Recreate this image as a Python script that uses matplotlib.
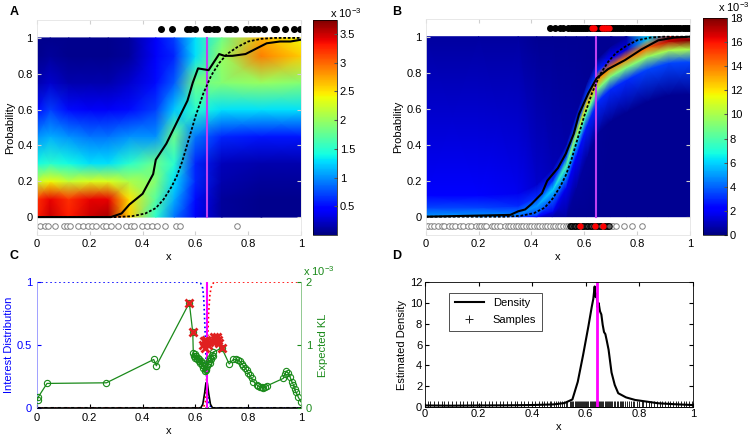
import matplotlib
matplotlib.use("Agg")
import matplotlib.pyplot as plt
import numpy as np

plt.rcParams["font.family"] = ["Liberation Sans", "DejaVu Sans"]
plt.rcParams["font.size"] = 8
plt.rcParams["mathtext.default"] = "regular"
plt.rcParams["xtick.direction"] = "in"
plt.rcParams["ytick.direction"] = "in"

# shared: true psychometric curve and the boundary
true_x = [0.0, 0.30, 0.36, 0.41, 0.45, 0.48, 0.51, 0.53, 0.55, 0.57, 0.60, 0.63, 0.66, 0.69, 0.72, 0.76, 0.80, 0.85, 0.90, 1.0]
true_p = [0.0, 0.0, 0.005, 0.02, 0.05, 0.10, 0.17, 0.23, 0.31, 0.41, 0.56, 0.69, 0.79, 0.86, 0.91, 0.95, 0.98, 0.995, 1.0, 1.0]
boundary_x = 0.643

# panel A
a_est_x = [0.0, 0.28, 0.32, 0.35, 0.40, 0.44, 0.45, 0.49, 0.52, 0.57, 0.59, 0.61, 0.65, 0.69, 0.71, 0.74, 0.79, 0.87, 0.92, 0.96, 1.0]
a_est_p = [0.0, 0.0, 0.02, 0.07, 0.13, 0.24, 0.32, 0.41, 0.50, 0.65, 0.75, 0.83, 0.82, 0.91, 0.90, 0.90, 0.91, 0.97, 0.98, 0.98, 0.99]
a_heat_x = [0.0, 0.05, 0.12, 0.2, 0.27, 0.35, 0.45, 0.52, 0.6, 0.7, 0.85, 1.0]
a_heat_p = [0.0, 0.1, 0.2, 0.3, 0.45, 0.6, 0.75, 0.9, 1.0]
a_heat = [
    [3.3, 3.5, 3.3, 3.5, 3.6, 2.6, 1.5, 0.9, 0.4, 0.1, 0.05, 0.05],
    [3.2, 3.4, 3.2, 3.4, 3.4, 2.5, 1.7, 1.1, 0.5, 0.1, 0.05, 0.05],
    [2.2, 2.4, 2.2, 2.3, 2.3, 2.1, 1.9, 1.3, 0.6, 0.15, 0.1, 0.1],
    [1.4, 1.5, 1.4, 1.3, 1.3, 1.5, 1.8, 1.5, 0.6, 0.2, 0.15, 0.15],
    [1.0, 1.1, 1.0, 0.9, 0.9, 1.0, 1.0, 1.8, 0.9, 0.6, 0.55, 0.55],
    [0.5, 0.7, 0.5, 0.4, 0.4, 0.5, 0.7, 1.2, 1.5, 1.3, 1.3, 1.3],
    [0.15, 0.25, 0.15, 0.15, 0.15, 0.25, 0.5, 0.8, 1.8, 1.9, 2.0, 1.9],
    [0.05, 0.1, 0.05, 0.05, 0.05, 0.1, 0.4, 0.6, 1.3, 2.0, 2.9, 2.6],
    [0.05, 0.05, 0.05, 0.05, 0.05, 0.1, 0.4, 0.7, 1.3, 1.8, 2.7, 2.4],
]
a_top_x = [0.471, 0.511, 0.568, 0.578, 0.60, 0.641, 0.653, 0.669, 0.682, 0.72, 0.73, 0.751,
           0.793, 0.806, 0.821, 0.836, 0.861, 0.896, 0.907, 0.941, 0.972, 0.997]
a_bottom_x = [0.013, 0.032, 0.04, 0.069, 0.101, 0.114, 0.124, 0.154, 0.174, 0.192, 0.208, 0.225,
              0.25, 0.263, 0.28, 0.306, 0.338, 0.356, 0.366, 0.398, 0.417, 0.436, 0.455, 0.484,
              0.528, 0.543, 0.758]
a_cbar_ticks = [0.5, 1, 1.5, 2, 2.5, 3, 3.5]
a_cbar_labels = ["0.5", "1", "1.5", "2", "2.5", "3", "3.5"]

# panel B
b_est_x = [0.0, 0.32, 0.35, 0.376, 0.40, 0.44, 0.46, 0.50, 0.53, 0.56, 0.58, 0.615, 0.647, 0.69, 0.754, 0.817, 0.88, 0.94, 1.0]
b_est_p = [0.0, 0.01, 0.03, 0.04, 0.07, 0.13, 0.20, 0.27, 0.35, 0.46, 0.57, 0.685, 0.77, 0.82, 0.87, 0.93, 0.98, 0.995, 1.0]
b_mesh_x = [0.0, 0.2, 0.35, 0.42, 0.48, 0.53, 0.57, 0.61, 0.65, 0.70, 0.76, 0.84, 0.92, 1.0]
b_ridge_p = [0.0, 0.0, 0.01, 0.06, 0.15, 0.28, 0.46, 0.63, 0.76, 0.83, 0.88, 0.94, 0.975, 0.98]
b_offsets = [-1.0, -0.3, -0.12, -0.05, 0.0, 0.05, 0.12, 1.0]
b_heat = [
    [5.0, 5.0, 3.0, 0.6, 0.4, 0.3, 0.3, 0.3, 0.3, 0.3, 0.3, 0.3, 0.3, 0.3],
    [5.0, 5.0, 3.0, 1.0, 0.7, 0.5, 0.5, 0.5, 0.4, 0.3, 0.3, 0.3, 0.3, 0.3],
    [5.0, 5.0, 3.0, 2.2, 1.8, 1.8, 2.2, 2.8, 3.0, 3.0, 3.0, 3.5, 3.5, 3.5],
    [5.0, 5.0, 3.5, 3.5, 4.0, 5.0, 6.0, 8.0, 9.0, 9.0, 9.0, 9.5, 10.0, 10.0],
    [5.0, 5.0, 4.5, 5.0, 6.0, 8.0, 10.0, 12.0, 13.5, 14.0, 14.0, 14.5, 17.0, 18.0],
    [3.5, 3.5, 3.0, 3.0, 3.0, 3.5, 3.5, 3.5, 3.0, 2.0, 1.5, 6.0, 17.0, 17.5],
    [2.0, 2.0, 1.8, 1.2, 0.9, 0.7, 0.5, 0.4, 0.3, 0.3, 0.5, 6.0, 17.0, 17.5],
    [0.5, 0.5, 0.5, 0.3, 0.3, 0.3, 0.3, 0.3, 0.3, 0.3, 0.5, 6.0, 17.0, 17.5],
]
b_top_x = [0.47, 0.49, 0.508, 0.52, 0.540, 0.548, 0.556, 0.564, 0.572, 0.580, 0.588, 0.596,
           0.604, 0.612, 0.620, 0.628, 0.636, 0.644, 0.652, 0.660, 0.668, 0.676, 0.684, 0.692,
           0.700, 0.708, 0.716, 0.724, 0.732, 0.740, 0.748, 0.756, 0.764, 0.772, 0.780, 0.788,
           0.796, 0.804, 0.812, 0.820, 0.828, 0.836, 0.844, 0.852, 0.860, 0.868, 0.876, 0.884,
           0.892, 0.900, 0.908, 0.916, 0.924, 0.932, 0.940, 0.948, 0.956, 0.964, 0.972, 0.980,
           0.988, 0.996]
b_top_red_x = [0.628, 0.636, 0.668, 0.676, 0.684, 0.692]
b_bottom_x = [0.0, 0.01, 0.02, 0.03, 0.045, 0.06, 0.07, 0.09, 0.10, 0.11, 0.13, 0.14, 0.16,
              0.17, 0.19, 0.20, 0.21, 0.22, 0.23, 0.25, 0.26, 0.27, 0.28, 0.30, 0.31, 0.32,
              0.33, 0.34, 0.35, 0.36, 0.37, 0.38, 0.39, 0.40, 0.41, 0.42, 0.43, 0.44, 0.45,
              0.46, 0.47, 0.48, 0.49, 0.50, 0.51, 0.52, 0.53, 0.54, 0.70, 0.71, 0.72, 0.75,
              0.78, 0.82]
b_bottom_dense_x = [0.545, 0.55, 0.555, 0.56, 0.565, 0.57, 0.575, 0.58, 0.59, 0.595, 0.60,
                    0.605, 0.61, 0.615, 0.62, 0.625, 0.63, 0.635, 0.645, 0.65, 0.655, 0.66,
                    0.665, 0.675, 0.68, 0.685, 0.69, 0.695]
b_bottom_red_x = [0.584, 0.64, 0.67]
b_cbar_ticks = [0, 2, 4, 6, 8, 10, 12, 14, 16, 18]

# panel C
c_blue_x = [0.0, 0.60, 0.62, 0.628, 0.632, 0.636, 0.64, 0.644, 0.65, 0.66, 1.0]
c_blue_y = [1.0, 1.0, 0.99, 0.95, 0.85, 0.65, 0.40, 0.15, 0.04, 0.0, 0.0]
c_red_x = [0.0, 0.63, 0.638, 0.642, 0.646, 0.65, 0.655, 0.66, 0.67, 1.0]
c_red_y = [0.0, 0.0, 0.05, 0.2, 0.5, 0.75, 0.9, 0.96, 1.0, 1.0]
c_prod_x = [0.0, 0.62, 0.628, 0.635, 0.64, 0.645, 0.65, 0.657, 0.665, 1.0]
c_prod_y = [0.0, 0.0, 0.03, 0.12, 0.2, 0.2, 0.12, 0.03, 0.0, 0.0]
c_kl_x = [0.002, 0.004, 0.038, 0.263, 0.442, 0.452, 0.577, 0.59,
          0.592, 0.594, 0.597, 0.60, 0.603, 0.606, 0.609, 0.612, 0.615, 0.618, 0.621, 0.624,
          0.627, 0.63, 0.633, 0.636, 0.639, 0.642, 0.645, 0.648, 0.651, 0.654, 0.657, 0.66,
          0.663, 0.666, 0.668, 0.70,
          0.728, 0.744, 0.752, 0.76, 0.769, 0.776, 0.782, 0.788, 0.794, 0.80, 0.806, 0.813,
          0.82, 0.832, 0.838, 0.845, 0.851, 0.857, 0.863, 0.87, 0.933, 0.939, 0.945, 0.952,
          0.958, 0.965, 0.971, 0.976, 0.981, 0.99, 0.999]
c_kl_val = [0.13, 0.17, 0.39, 0.40, 0.77, 0.67, 1.67, 1.20,
            0.88, 0.83, 0.86, 0.80, 0.83, 0.77, 0.80, 0.74, 0.77, 0.71, 0.74, 0.68,
            0.71, 0.64, 0.67, 0.58, 0.62, 0.60, 0.66, 0.70, 0.74, 0.72, 0.79, 0.77,
            0.84, 0.82, 0.89, 0.95,
            0.70, 0.77, 0.77, 0.76, 0.74, 0.70, 0.67, 0.64, 0.60, 0.56, 0.52, 0.47,
            0.42, 0.37, 0.35, 0.33, 0.33, 0.31, 0.33, 0.35, 0.47, 0.54, 0.58, 0.55,
            0.50, 0.42, 0.37, 0.30, 0.25, 0.17, 0.10]
c_sel_x = [0.577, 0.59, 0.63, 0.634, 0.638, 0.642, 0.646, 0.65,
           0.666, 0.671, 0.676, 0.681, 0.686, 0.69, 0.70]
c_sel_val = [1.67, 1.20, 1.0, 1.07, 0.95, 1.08, 1.0, 1.05,
             1.05, 1.12, 1.08, 1.12, 1.08, 1.03, 0.95]

# panel D
d_x = [0.0, 0.1, 0.2, 0.3, 0.4, 0.48, 0.52, 0.55, 0.57, 0.59, 0.61, 0.622, 0.628, 0.633,
       0.636, 0.64, 0.644, 0.648, 0.653, 0.658, 0.663, 0.668, 0.673, 0.678, 0.685, 0.696,
       0.708, 0.721, 0.75, 0.784, 0.83, 0.871, 0.93, 1.0]
d_density = [0.12, 0.10, 0.12, 0.13, 0.16, 0.22, 0.35, 0.7, 2.4, 5.0, 7.8, 9.6, 10.4, 11.6,
             10.6, 10.9, 9.6, 10.0, 9.2, 8.9, 7.9, 7.2, 7.0, 6.4, 5.5, 3.3,
             2.1, 1.3, 0.9, 0.65, 0.48, 0.33, 0.24, 0.16]
d_samples = [0.01, 0.02, 0.035, 0.05, 0.065, 0.07, 0.085, 0.10, 0.115, 0.13, 0.14, 0.155,
             0.17, 0.18, 0.195, 0.21, 0.225, 0.24, 0.25, 0.265, 0.28, 0.29, 0.305, 0.32,
             0.335, 0.345, 0.36, 0.37, 0.385, 0.40, 0.41, 0.425, 0.435, 0.445,
             0.455, 0.465, 0.47, 0.48, 0.49, 0.495, 0.505, 0.51, 0.52, 0.525, 0.53, 0.54, 0.545,
             0.550, 0.554, 0.558, 0.562, 0.566, 0.570, 0.574, 0.578, 0.582, 0.586, 0.590,
             0.594, 0.598, 0.602, 0.606, 0.610, 0.614, 0.618, 0.622, 0.626, 0.630, 0.634,
             0.638, 0.642, 0.646, 0.650, 0.654, 0.658, 0.662, 0.666, 0.670, 0.674, 0.678,
             0.682, 0.686, 0.690, 0.694, 0.698,
             0.705, 0.71, 0.715, 0.72, 0.726, 0.73, 0.735, 0.74, 0.748, 0.755, 0.76, 0.768,
             0.775, 0.78, 0.79, 0.80, 0.808, 0.815, 0.825, 0.835, 0.845,
             0.855, 0.865, 0.875, 0.885, 0.895, 0.905, 0.915, 0.925, 0.935, 0.945, 0.955,
             0.965, 0.975, 0.985, 0.995]

x_ticks = [0, 0.2, 0.4, 0.6, 0.8, 1]
x_labels = ["0", "0.2", "0.4", "0.6", "0.8", "1"]
p_ticks = [0, 0.2, 0.4, 0.6, 0.8, 1]

violet = "#c040f0"
magenta = "#ff00ff"
kl_green = "#1a8a1a"
W, H = 750, 440


def fig_rect(x0, y0, x1, y1):
    # pixel box (top-left origin) -> figure fraction
    return [x0 / W, 1 - y1 / H, (x1 - x0) / W, (y1 - y0) / H]


def style_prob_axes(ax):
    ax.set_xlim(0, 1)
    ax.set_ylim(-0.1, 1.1)
    ax.set_xticks(x_ticks)
    ax.set_xticklabels(x_labels)
    ax.set_yticks(p_ticks)
    ax.set_yticklabels(x_labels)
    for s in ax.spines.values():
        s.set_color("#e4e4e4")
        s.set_linewidth(0.6)
    ax.tick_params(color="#d0d0d0", length=3, top=True, right=True, pad=3)
    ax.set_xlabel("x", labelpad=2)
    ax.set_ylabel("Probability", labelpad=2)


def draw_cbar(fig, mesh, rect, ticks, labels):
    cax = fig.add_axes(rect)
    cb = fig.colorbar(mesh, cax=cax)
    cb.set_ticks(ticks)
    cb.set_ticklabels(labels)
    cb.outline.set_linewidth(0.5)
    cax.tick_params(direction="in", length=2, pad=2, color="#555555")
    return cax


fig = plt.figure(figsize=(7.5, 4.4), dpi=100)

# ---- A
ax_a = fig.add_axes(fig_rect(37, 20, 301, 235))
mesh_a = ax_a.pcolormesh(a_heat_x, a_heat_p, np.array(a_heat), shading="gouraud",
                         cmap="jet", vmin=0, vmax=3.74)
ax_a.plot([boundary_x, boundary_x], [0, 1], color=violet, lw=1.5)
ax_a.plot(true_x, true_p, color="k", ls=(0, (1.5, 1)), lw=1.3)
ax_a.plot(a_est_x, a_est_p, color="k", lw=1.5)
ax_a.plot(a_top_x, [1.05] * len(a_top_x), "o", color="k", ms=4)
ax_a.plot(a_bottom_x, [-0.05] * len(a_bottom_x), "o", mfc="white", mec="#808080", ms=4, mew=0.7)
style_prob_axes(ax_a)
draw_cbar(fig, mesh_a, fig_rect(313, 20, 337, 235), a_cbar_ticks, a_cbar_labels)
fig.text(330 / W, 1 - 13 / H, "x 10$^{-3}$", fontsize=8, va="center")

# ---- B
ax_b = fig.add_axes(fig_rect(425.7, 18.7, 690, 234.7))
mesh_xx = np.tile(b_mesh_x, (len(b_offsets), 1))
mesh_pp = np.clip(np.add.outer(b_offsets, b_ridge_p), 0, 1)
mesh_b = ax_b.pcolormesh(mesh_xx, mesh_pp, np.array(b_heat), shading="gouraud",
                         cmap="jet", vmin=0, vmax=18)
ax_b.plot([boundary_x, boundary_x], [0, 1], color=violet, lw=1.5)
ax_b.plot(true_x, true_p, color="k", ls=(0, (1.5, 1)), lw=1.3)
ax_b.plot(b_est_x, b_est_p, color="k", lw=1.5)
ax_b.plot(b_top_x, [1.05] * len(b_top_x), "o", color="k", ms=4)
ax_b.plot(b_top_red_x, [1.05] * len(b_top_red_x), "o", color="red", ms=3.5)
ax_b.plot(b_bottom_x, [-0.05] * len(b_bottom_x), "o", mfc="white", mec="#808080", ms=4, mew=0.7)
ax_b.plot(b_bottom_dense_x, [-0.05] * len(b_bottom_dense_x), "o", mfc="#606060", mec="k", ms=4, mew=0.7)
ax_b.plot(b_bottom_red_x, [-0.05] * len(b_bottom_red_x), "o", color="red", ms=3.5)
style_prob_axes(ax_b)
draw_cbar(fig, mesh_b, fig_rect(703, 18, 727, 235), b_cbar_ticks, [str(t) for t in b_cbar_ticks])
fig.text(718 / W, 1 - 7 / H, "x 10$^{-3}$", fontsize=8, va="center")

# ---- C
ax_c = fig.add_axes(fig_rect(37, 282, 301, 408))
ax_c.plot(c_blue_x, c_blue_y, color="blue", ls=":", lw=1.2)
ax_c.plot(c_red_x, c_red_y, color="red", ls=":", lw=1.2)
ax_c.plot([0, 1], [0, 0], color="k", ls=(0, (1, 1.2)), lw=2.2)
ax_c.plot(c_prod_x, c_prod_y, color="k", lw=1.2)
ax_c.plot([boundary_x, boundary_x], [0, 1], color=magenta, lw=1.5)
ax_c.set_xlim(0, 1)
ax_c.set_ylim(0, 1)
ax_c.set_xticks(x_ticks)
ax_c.set_xticklabels(x_labels)
ax_c.set_yticks([0, 0.5, 1])
ax_c.set_yticklabels(["0", "0.5", "1"])
ax_c.tick_params(axis="y", colors="blue", length=3)
ax_c.tick_params(axis="x", length=3, top=False)
ax_c.set_xlabel("x", labelpad=2)
ax_c.set_ylabel("Interest Distribution", color="blue", labelpad=2)
ax_c.spines["top"].set_visible(False)
ax_c.spines["left"].set_color("#9090ff")
ax_c.spines["left"].set_linewidth(0.6)
ax_c.spines["right"].set_visible(False)
ax_c.spines["bottom"].set_linewidth(0.6)

ax_kl = ax_c.twinx()
ax_kl.plot(c_kl_x, c_kl_val, "-o", color=kl_green, lw=0.9, ms=4.5, mfc="none", mew=0.8)
ax_kl.plot(c_sel_x, c_sel_val, "x", color="#e02020", ms=5.5, mew=2)
ax_kl.set_ylim(0, 2)
ax_kl.set_yticks([0, 1, 2])
ax_kl.set_yticklabels(["0", "1", "2"])
ax_kl.tick_params(axis="y", colors=kl_green, length=3)
ax_kl.set_ylabel("Expected KL", color=kl_green, labelpad=4)
ax_kl.spines["top"].set_visible(False)
ax_kl.spines["left"].set_visible(False)
ax_kl.spines["bottom"].set_visible(False)
ax_kl.spines["right"].set_color("#80c080")
ax_kl.spines["right"].set_linewidth(0.6)
fig.text(303 / W, 1 - 271 / H, "x 10$^{-3}$", fontsize=8, color=kl_green, va="center")

# ---- D
ax_d = fig.add_axes(fig_rect(425, 282.3, 693, 406.7))
ax_d.plot(d_samples, [0] * len(d_samples), "+", color="#222222", ms=9, mew=0.7, label="Samples")
ax_d.plot(d_x, d_density, color="k", lw=1.5, label="Density")
ax_d.plot([boundary_x, boundary_x], [0, 12], color=magenta, lw=2)
ax_d.set_xlim(0, 1)
ax_d.set_ylim(0, 12)
ax_d.set_xticks(x_ticks)
ax_d.set_xticklabels(x_labels)
ax_d.set_yticks([0, 2, 4, 6, 8, 10, 12])
ax_d.tick_params(length=3, top=True, right=True, pad=2)
for s in ax_d.spines.values():
    s.set_linewidth(0.6)
ax_d.set_xlabel("x", labelpad=2)
ax_d.set_ylabel("Estimated Density", labelpad=2)
handles, labels = ax_d.get_legend_handles_labels()
leg = ax_d.legend(handles[::-1], labels[::-1], loc="upper left", bbox_to_anchor=(0.07, 0.96),
                  fontsize=8, frameon=True, fancybox=False, edgecolor="k", markerscale=0.7,
                  handlelength=2.6, borderpad=0.5, labelspacing=0.6)
leg.get_frame().set_linewidth(0.6)

# panel letters
for letter, (px, py) in {"A": (10, 12), "B": (392, 12), "C": (10, 256), "D": (392, 256)}.items():
    fig.text(px / W, 1 - py / H, letter, fontsize=9, fontweight="bold", va="center", ha="left")

fig.savefig("out.png", dpi=100)
